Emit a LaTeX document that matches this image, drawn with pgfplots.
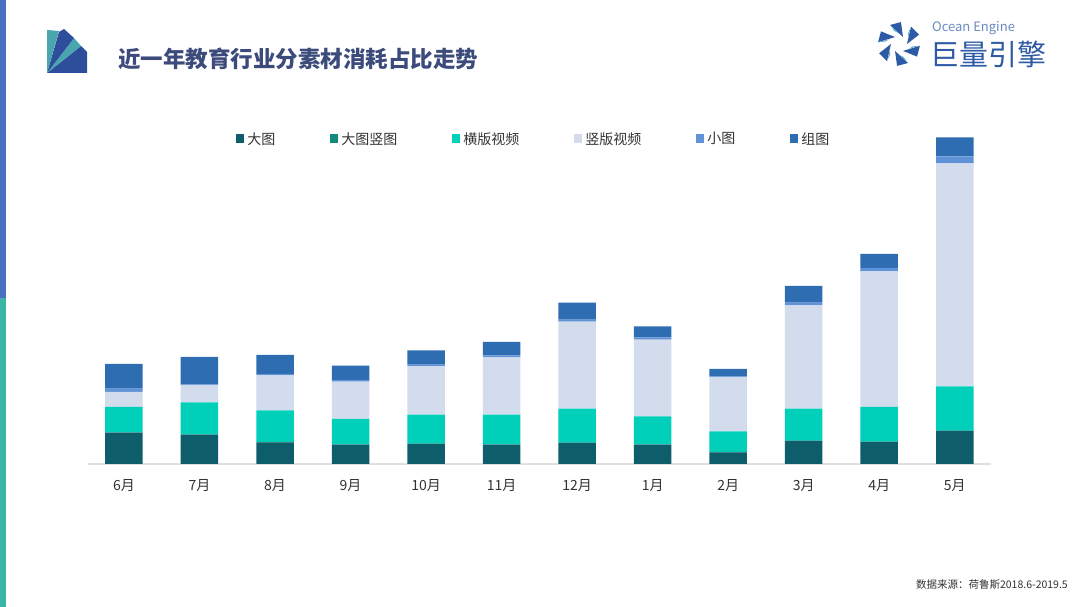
\documentclass[border=0pt]{standalone}
\usepackage{pgfplots}
\pgfplotsset{compat=1.18}
\usepackage{pgfplotstable}
\usetikzlibrary{calc}
\usepackage{fontspec}
\newfontfamily\cjk{Noto Sans CJK SC}
\definecolor{cA}{HTML}{0E5D6B}
\definecolor{cB}{HTML}{138A7E}
\definecolor{cC}{HTML}{00CFBA}
\definecolor{cD}{HTML}{D3DCEC}
\definecolor{cE}{HTML}{5F92D6}
\definecolor{cF}{HTML}{2F6DB3}
\definecolor{stripeBlue}{HTML}{4A70C2}
\definecolor{stripeTeal}{HTML}{3AB5A6}
\definecolor{titleC}{HTML}{3C4B7B}
\definecolor{logoBlue}{HTML}{2E4E9C}
\definecolor{logoTeal}{HTML}{4AA6AE}
\definecolor{oeBlue}{HTML}{2D5AA5}
\definecolor{oeLight}{HTML}{5BA7D1}
\definecolor{txt}{HTML}{333333}

\pgfplotstableread{
x A B C D E F
0 31.3 0.3 25.4 15.0 3.3 24.7
1 29.3 0.3 32.0 17.0 1.0 27.4
2 21.7 0.3 31.6 35.0 1.4 19.0
3 19.3 0.3 25.4 37.3 1.7 14.3
4 20.0 0.3 29.0 48.3 1.7 14.3
5 19.3 0.3 29.7 57.3 2.0 13.4
6 21.0 0.3 34.0 87.0 2.0 17.0
7 19.3 0.3 28.0 76.7 2.3 11.0
8 11.7 0.3 20.6 54.0 1.0 7.4
9 23.0 0.3 32.0 103.3 2.7 16.7
10 22.0 0.3 34.7 135.6 3.4 14.0
11 33.0 0.3 44.3 223.0 7.0 19.0
}\datatable

\begin{document}
\begin{tikzpicture}[x=1bp,y=1bp]
\fill[white] (0,0) rectangle (1080,607);
% left stripe
\fill[stripeBlue] (0,309) rectangle (6,607);
\fill[stripeTeal] (0,0) rectangle (6,309);
% left logo (fan)
\fill[logoBlue] (47,534) -- (87,534) -- (87,555) -- (81,561) -- cycle;
\fill[logoTeal] (47,534) -- (81,561) -- (74,569) -- cycle;
\fill[logoBlue] (47,534) -- (74,569) -- (64,578) -- (59,575) -- cycle;
\fill[logoTeal] (47,534) -- (59,576) -- (47,577) -- cycle;
% title
\node[anchor=west, inner sep=0pt, text=titleC, font=\cjk\bfseries\fontsize{22.5bp}{26bp}\selectfont] at (118,548) {近一年教育行业分素材消耗占比走势};
% right logo pinwheel
\foreach \k [evaluate=\k as \a using 60*\k] in {0,...,5}{
  \fill[oeBlue] ($(899,563)+(\a:8)$) -- ($(899,563)+(\a+25:22)$) -- ($(899,563)+(\a+55:21)$) -- cycle;
  \fill[oeLight] ($(899,563)+(\a+35:11)$) -- ($(899,563)+(\a+55:21)$) -- ($(899,563)+(\a+50:14)$) -- cycle;
}
\node[anchor=west, inner sep=0pt, text=oeBlue!70, font=\cjk\fontsize{13bp}{15bp}\selectfont] at (932,579) {Ocean Engine};
\node[anchor=west, inner sep=0pt, text=oeBlue, font=\cjk\fontsize{29bp}{32bp}\selectfont] at (930,553) {巨量引擎};
% footer
\node[anchor=east, inner sep=0pt, text=txt, font=\cjk\fontsize{10.5bp}{12bp}\selectfont] at (1068,22) {数据来源：荷鲁斯2018.6-2019.5};

\begin{axis}[
  at={(88bp,143bp)}, anchor=south west,
  scale only axis, width=903bp, height=330bp,
  xmin=-0.476, xmax=11.48, ymin=0, ymax=330,
  ybar stacked, bar width=37.5bp,
  axis y line=none,
  axis x line*=bottom,
  axis line style={draw=black!12, line width=1.2bp},
  major tick length=0,
  xtick={0,...,11},
  xticklabels={6月,7月,8月,9月,10月,11月,12月,1月,2月,3月,4月,5月},
  xticklabel style={font=\cjk\fontsize{14bp}{16bp}\selectfont, text=txt, yshift=-12bp},
  legend columns=6,
  legend cell align=left,
  legend image code/.code={\fill[#1] (0bp,-4.5bp) rectangle (8bp,4.5bp); \path (0bp,0bp) -- (10bp,0bp);},
  legend style={at={(rel axis cs:0.164,0.985)}, anchor=west, draw=none, fill=none,
    inner sep=0pt,
    font=\cjk\fontsize{14bp}{16bp}\selectfont, text=txt,
    nodes={inner sep=1bp},
    /tikz/every even column/.append style={column sep=54bp}},
  clip=false,
]
\addplot[fill=cA, draw=none] table[x=x,y=A] {\datatable};
\addplot[fill=cB, draw=none] table[x=x,y=B] {\datatable};
\addplot[fill=cC, draw=none] table[x=x,y=C] {\datatable};
\addplot[fill=cD, draw=none] table[x=x,y=D] {\datatable};
\addplot[fill=cE, draw=none] table[x=x,y=E] {\datatable};
\addplot[fill=cF, draw=none] table[x=x,y=F] {\datatable};
\legend{大图,大图竖图,横版视频,竖版视频,小图,组图}
\end{axis}
\end{tikzpicture}
\end{document}
